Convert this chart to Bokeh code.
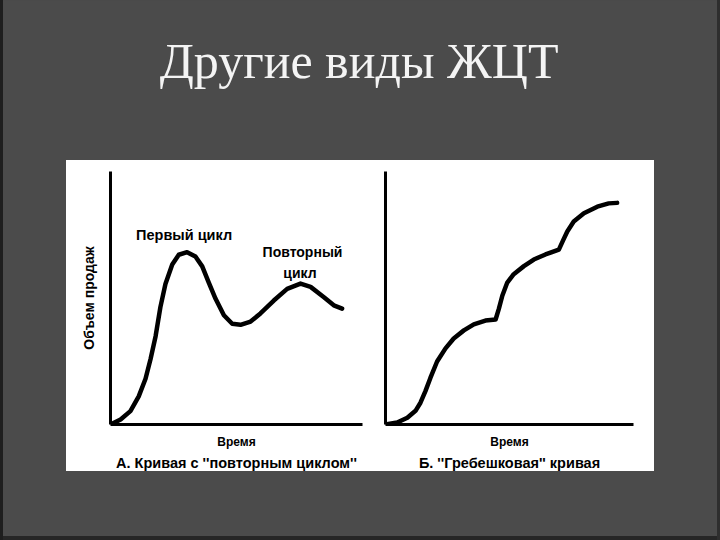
from bokeh.plotting import figure
from bokeh.layouts import column, row
from bokeh.models import Spacer, Label, Title, Range1d
from bokeh.embed import file_html
from bokeh.resources import INLINE
from bokeh.core.properties import value

# ---- texts ----
slide_title = "Другие виды ЖЦТ"
y_label = "Объем продаж"
x_label = "Время"
caption_a = "А. Кривая с ''повторным циклом''"
caption_b = "Б. ''Гребешковая'' кривая"
note_first = "Первый цикл"
note_repeat_1 = "Повторный"
note_repeat_2 = "цикл"

# ---- panel A: curve with a repeated cycle (time 0..100, sales 0..100) ----
time_a = [0, 4.0, 7.9, 11.2, 13.9, 15.9, 17.9, 19.8, 21.8, 24.5, 27.1, 30.4, 33.7, 36.4,
          39.0, 41.7, 45.0, 48.3, 51.6, 55.6, 59.5, 64.8, 70.1, 75.4, 79.4, 84.7, 88.6, 91.9]
sales_a = [0, 2.0, 5.3, 11.1, 18.1, 25.9, 34.9, 46.4, 55.5, 63.2, 67.1, 68.1, 66.4, 62.5,
           56.1, 49.7, 43.2, 39.8, 39.4, 40.7, 43.9, 49.0, 53.6, 55.7, 54.4, 50.3, 47.1, 45.8]

# ---- panel B: scalloped curve ----
time_b = [0, 4.7, 8.8, 12.1, 14.1, 16.1, 18.1, 20.8, 24.2, 27.5, 31.6, 35.6, 40.3, 44.4,
          45.7, 47.1, 49.1, 51.7, 55.8, 59.8, 64.5, 69.9, 71.7, 73.3, 75.9, 80.0, 85.4, 90.0, 93.4]
sales_b = [0, 0.8, 2.7, 5.4, 8.6, 13.2, 18.4, 24.9, 30.1, 34.0, 37.2, 39.6, 41.1, 41.5,
           45.7, 50.9, 56.1, 59.4, 62.6, 65.2, 67.2, 69.1, 73.0, 76.3, 80.2, 83.5, 86.1, 87.4, 87.6]

BG = "#4b4b4b"
SANS = "Liberation Sans"

# ---- title strip ----
head = figure(width=720, height=160, x_range=Range1d(0, 1), y_range=Range1d(0, 1),
              output_backend="svg", toolbar_location=None, min_border=0,
              background_fill_color=BG, border_fill_color=BG, outline_line_color=None)
head.axis.visible = False
head.grid.visible = False
head.text(x=[0.498], y=[0.619], text=[slide_title], text_font=value("Liberation Serif"),
          text_font_size="50px", text_color="#f4f4f4", text_align="center",
          text_baseline="middle")


def make_panel(width, left, right, top, xs, ys, caption, ylabel):
    p = figure(width=width, height=311, x_range=Range1d(0, 100), y_range=Range1d(0, 100),
               output_backend="svg", toolbar_location=None,
               min_border_left=left, min_border_right=right, min_border_top=top,
               min_border_bottom=44, background_fill_color=None,
               border_fill_color="white", outline_line_color=None)
    p.grid.visible = False
    for ax in (p.xaxis, p.yaxis):
        ax.ticker = []
        ax.axis_line_width = 3
        ax.axis_line_color = "black"
        ax.major_tick_out = 0
        ax.major_tick_in = 0
        ax.minor_tick_out = 0
        ax.minor_tick_in = 0
        ax.major_label_standoff = 0
        ax.axis_label_text_font = SANS
        ax.axis_label_text_font_style = "bold"
        ax.axis_label_text_color = "black"
    p.xaxis.axis_label = x_label
    p.xaxis.axis_label_text_font_size = "12px"
    p.xaxis.axis_label_standoff = 10
    if ylabel:
        p.yaxis.axis_label = ylabel
        p.yaxis.axis_label_text_font_size = "14px"
        p.yaxis.axis_label_standoff = 14
    p.add_layout(Title(text=caption, align="center", text_font=SANS, text_font_size="14.5px",
                       text_font_style="bold", text_color="black", standoff=2), "below")
    p.line(xs, ys, line_width=4.5, line_color="black", line_join="round", line_cap="round")
    return p


pa = make_panel(308, 44, 12, 8, time_a, sales_a, caption_a, y_label)
pb = make_panel(280, 11, 21, 11, time_b, sales_b, caption_b, None)

for txt, x, y, size in ((note_first, 29.2, 74.9, "14.5px"), (note_repeat_1, 76.2, 68.0, "14px"),
                        (note_repeat_2, 75.2, 59.8, "14px")):
    pa.add_layout(Label(x=x, y=y, text=txt, text_font=SANS, text_font_size=size,
                        text_font_style="bold", text_color="black",
                        text_align="center", text_baseline="middle"))

panels = row(pa, pb, spacing=0, styles={"background-color": "white"})
layout = column(head, row(Spacer(width=66, height=311), panels, spacing=0), spacing=0)

css = ("<style>html,body{background-color:%s;}"
       "body::after{content:'';position:fixed;left:0;top:0;right:0;bottom:0;pointer-events:none;"
       "box-shadow:inset 3px 0 0 #1e1e1e, inset -3px 0 0 #2e2e2e, inset 0 -4px 0 #262626;}</style>" % BG)
html = file_html(layout, INLINE, title=slide_title)
html = html.replace("</head>", css + "</head>", 1)
open("out.html", "w").write(html)
